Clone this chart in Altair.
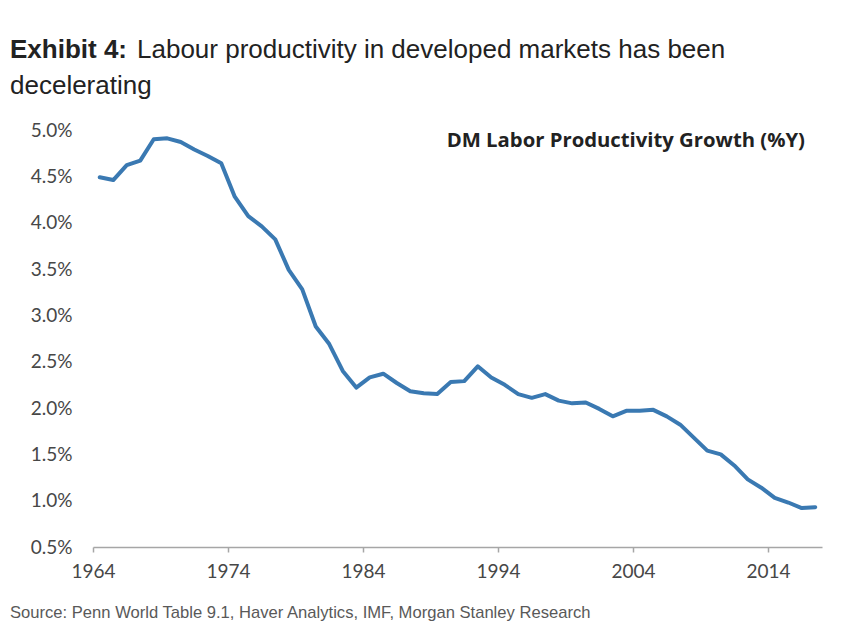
import altair as alt
import pandas as pd

years = list(range(1964, 2018))
growth = [4.49, 4.46, 4.62, 4.67, 4.90, 4.91, 4.87, 4.79, 4.72, 4.64,
          4.28, 4.07, 3.96, 3.82, 3.49, 3.28, 2.88, 2.69, 2.40, 2.22,
          2.33, 2.37, 2.27, 2.18, 2.16, 2.15, 2.28, 2.29, 2.45, 2.33,
          2.25, 2.15, 2.11, 2.15, 2.08, 2.05, 2.06, 1.99, 1.91, 1.97,
          1.97, 1.98, 1.91, 1.82, 1.68, 1.54, 1.50, 1.38, 1.23, 1.14,
          1.03, 0.98, 0.92, 0.93]
x_ticks = [1964, 1974, 1984, 1994, 2004, 2014]
y_ticks = [0.5, 1.0, 1.5, 2.0, 2.5, 3.0, 3.5, 4.0, 4.5, 5.0]

title_bold = "Exhibit 4:"
title_rest = "Labour productivity in developed markets has been"
title_line2 = "decelerating"
series_label = "DM Labor Productivity Growth (%Y)"
source = "Source: Penn World Table 9.1, Haver Analytics, IMF, Morgan Stanley Research"

df = pd.DataFrame({"year": years, "growth": growth})

W, H = 729, 417
LEFT, TOP = 93, 130

line = alt.Chart(df).transform_calculate(
    xpos="datum.year + 0.5"
).mark_line(color="#3a79b2", strokeWidth=4, strokeJoin="round", strokeCap="round").encode(
    x=alt.X("xpos:Q",
            scale=alt.Scale(domain=[1964, 2018], nice=False, zero=False),
            axis=alt.Axis(values=x_ticks, format="d", title=None, grid=False,
                          domainColor="#a6a6a6", domainWidth=1.5,
                          tickColor="#a6a6a6", tickWidth=1.5, tickSize=5,
                          labelFont="Lato", labelFontSize=19, labelColor="#474747",
                          labelPadding=10, labelFlush=False)),
    y=alt.Y("growth:Q",
            scale=alt.Scale(domain=[0.5, 5.0], nice=False, zero=False),
            axis=alt.Axis(values=y_ticks, title=None, grid=False, domain=False,
                          ticks=False, labelExpr="format(datum.value, '.1f') + '%'",
                          labelFont="Lato", labelFontSize=19, labelColor="#474747",
                          labelPadding=21)),
)

def txt(text, x, y, size, weight="normal", color="#222222", font="Liberation Sans", align="left"):
    return alt.Chart(pd.DataFrame({"t": [text]})).mark_text(
        align=align, baseline="alphabetic", fontSize=size, fontWeight=weight,
        color=color, font=font
    ).encode(text="t:N", x=alt.value(x), y=alt.value(y))

layers = [
    line,
    txt(title_bold, 10 - LEFT, 58 - TOP, 26, weight="bold"),
    txt(title_rest, 137 - LEFT, 58 - TOP, 26),
    txt(title_line2, 10 - LEFT, 94 - TOP, 26),
    txt(series_label, 805 - LEFT, 147 - TOP, 20.3, weight="bold", font="Open Sans", align="right"),
    txt(source, 10 - LEFT, 618 - TOP, 16.6, color="#595959"),
]

chart = alt.layer(*layers).properties(
    width=W, height=H,
    autosize=alt.AutoSizeParams(type="none"),
    padding={"left": LEFT, "top": TOP, "right": 854 - LEFT - W, "bottom": 644 - TOP - H},
    background="white",
).configure_view(stroke=None)

chart.save("out.html", embed_options={"renderer": "svg", "actions": False})
